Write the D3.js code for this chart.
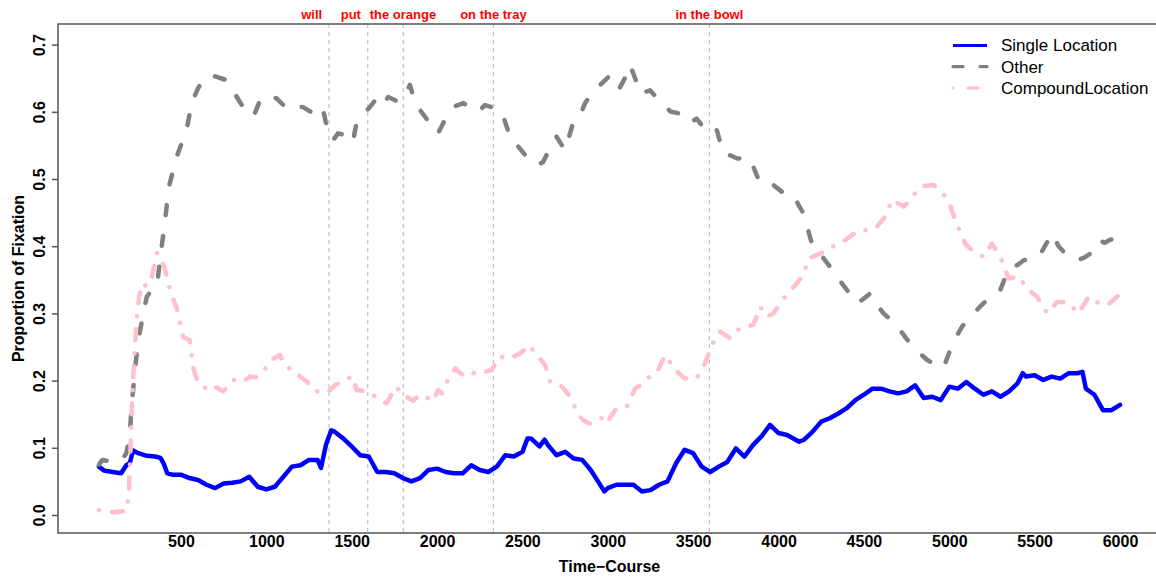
<!DOCTYPE html>
<html>
<head>
<meta charset="utf-8">
<script src="https://cdn.jsdelivr.net/npm/d3@7"></script>
<style>
  html, body { margin: 0; padding: 0; background: #fff; }
  svg { display: block; }
</style>
</head>
<body>
<svg id="chart" width="1156" height="580"></svg>
<script>
// ---------------- data ----------------
const singleTime = [20,50,100,150,180,200,220,250,300,350,380,400,420,450,500,550,600,650,700,750,800,850,900,950,1000,1050,1100,1150,1200,1250,1300,1320,1350,1380,1400,1450,1500,1550,1600,1650,1700,1750,1800,1850,1900,1950,2000,2050,2100,2150,2200,2250,2300,2350,2400,2450,2500,2530,2550,2600,2630,2650,2700,2750,2800,2850,2900,2950,2980,3000,3050,3100,3150,3200,3250,3300,3350,3400,3450,3500,3550,3600,3650,3700,3750,3800,3850,3900,3950,4000,4050,4100,4120,4150,4200,4250,4300,4350,4400,4450,4500,4550,4600,4650,4700,4750,4800,4850,4900,4950,5000,5050,5100,5150,5200,5250,5300,5350,5400,5430,5450,5500,5550,5600,5650,5700,5750,5780,5800,5850,5900,5950,6000];
const singleValues = [0.072,0.066,0.064,0.062,0.074,0.077,0.096,0.092,0.088,0.087,0.085,0.076,0.062,0.060,0.060,0.055,0.052,0.045,0.040,0.047,0.048,0.050,0.057,0.042,0.038,0.042,0.057,0.072,0.074,0.082,0.082,0.070,0.105,0.126,0.124,0.114,0.102,0.089,0.087,0.064,0.064,0.062,0.055,0.050,0.055,0.067,0.069,0.064,0.062,0.062,0.074,0.067,0.064,0.072,0.089,0.087,0.094,0.114,0.114,0.102,0.112,0.104,0.089,0.094,0.084,0.082,0.067,0.047,0.035,0.040,0.045,0.045,0.045,0.035,0.037,0.045,0.050,0.077,0.097,0.092,0.072,0.064,0.072,0.079,0.099,0.087,0.104,0.117,0.134,0.122,0.119,0.112,0.109,0.112,0.124,0.139,0.144,0.151,0.159,0.171,0.179,0.188,0.188,0.184,0.181,0.184,0.193,0.174,0.176,0.171,0.191,0.188,0.198,0.188,0.179,0.184,0.176,0.184,0.196,0.211,0.206,0.208,0.201,0.206,0.203,0.211,0.211,0.213,0.188,0.179,0.156,0.156,0.164];

const otherTime = [20,40,80,150,180,200,210,235,250,280,300,330,360,375,405,430,475,533,563,600,630,670,710,768,808,857,900,925,960,1003,1060,1100,1138,1180,1216,1260,1294,1333,1362,1392,1420,1450,1480,1509,1528,1568,1600,1646,1680,1714,1772,1810,1841,1870,1899,1938,1970,2006,2040,2066,2100,2154,2200,2242,2280,2320,2360,2388,2437,2470,2515,2550,2583,2620,2642,2700,2749,2770,2798,2830,2867,2900,2955,3004,3030,3062,3100,3130,3160,3189,3247,3290,3325,3370,3413,3450,3481,3520,3550,3598,3638,3677,3720,3755,3800,3833,3862,3892,3930,3970,4030,4088,4120,4146,4195,4230,4264,4300,4342,4370,4400,4430,4459,4490,4537,4570,4615,4660,4713,4750,4791,4830,4869,4910,4947,4975,5006,5040,5074,5110,5143,5180,5221,5260,5299,5330,5358,5400,5436,5480,5524,5560,5602,5640,5680,5715,5749,5790,5827,5876,5910,5944,6000];
const otherValues = [0.075,0.082,0.080,0.080,0.092,0.115,0.160,0.226,0.260,0.300,0.325,0.335,0.340,0.375,0.434,0.489,0.533,0.573,0.613,0.635,0.647,0.655,0.652,0.647,0.630,0.610,0.600,0.593,0.615,0.625,0.620,0.610,0.615,0.608,0.607,0.600,0.610,0.603,0.568,0.558,0.568,0.566,0.570,0.558,0.583,0.598,0.605,0.620,0.610,0.622,0.615,0.625,0.640,0.615,0.603,0.590,0.575,0.568,0.585,0.598,0.608,0.613,0.605,0.600,0.610,0.607,0.605,0.593,0.556,0.550,0.536,0.525,0.521,0.525,0.536,0.563,0.543,0.560,0.585,0.590,0.613,0.625,0.640,0.652,0.640,0.632,0.650,0.670,0.650,0.627,0.632,0.620,0.610,0.600,0.598,0.590,0.583,0.590,0.580,0.585,0.573,0.538,0.535,0.531,0.530,0.531,0.512,0.494,0.495,0.491,0.479,0.476,0.460,0.449,0.404,0.395,0.382,0.370,0.357,0.345,0.335,0.325,0.315,0.320,0.330,0.315,0.300,0.290,0.275,0.262,0.250,0.240,0.231,0.225,0.218,0.225,0.246,0.265,0.280,0.292,0.300,0.310,0.320,0.330,0.335,0.355,0.369,0.372,0.379,0.382,0.384,0.400,0.419,0.400,0.389,0.385,0.379,0.383,0.389,0.409,0.405,0.410,0.410];

const compoundTime = [20,110,180,195,205,215,225,240,255,275,300,330,360,378,405,436,478,513,552,571,600,650,688,747,805,864,903,940,981,1030,1080,1110,1140,1198,1240,1276,1333,1370,1401,1440,1470,1509,1528,1587,1620,1646,1704,1730,1763,1790,1821,1860,1899,1940,1977,2006,2028,2057,2106,2140,2184,2220,2262,2320,2369,2420,2467,2500,2535,2594,2633,2662,2700,2731,2780,2828,2860,2897,2930,2965,2994,3020,3053,3111,3160,3200,3228,3286,3335,3394,3452,3521,3570,3609,3658,3716,3760,3794,3853,3892,3931,3970,4039,4098,4146,4176,4244,4313,4391,4469,4537,4576,4625,4664,4733,4771,4830,4908,4947,4996,5035,5054,5093,5143,5201,5250,5299,5348,5407,5456,5514,5573,5631,5690,5758,5817,5876,5925,5983,6000];
const compoundValues = [0.007,0.004,0.006,0.032,0.100,0.176,0.226,0.290,0.325,0.345,0.340,0.355,0.390,0.385,0.367,0.335,0.305,0.265,0.260,0.220,0.196,0.188,0.193,0.184,0.201,0.198,0.206,0.205,0.213,0.231,0.238,0.221,0.218,0.206,0.198,0.186,0.181,0.185,0.193,0.198,0.203,0.206,0.186,0.184,0.180,0.174,0.166,0.178,0.191,0.180,0.176,0.170,0.179,0.175,0.169,0.186,0.181,0.198,0.218,0.210,0.206,0.212,0.211,0.216,0.236,0.232,0.238,0.243,0.253,0.236,0.223,0.198,0.195,0.191,0.176,0.149,0.140,0.136,0.142,0.144,0.136,0.148,0.159,0.161,0.188,0.195,0.203,0.211,0.238,0.216,0.203,0.203,0.226,0.253,0.273,0.263,0.275,0.280,0.283,0.310,0.295,0.300,0.325,0.342,0.357,0.382,0.389,0.399,0.409,0.424,0.424,0.429,0.444,0.469,0.459,0.469,0.489,0.491,0.484,0.467,0.439,0.427,0.404,0.392,0.384,0.404,0.384,0.352,0.355,0.337,0.325,0.300,0.317,0.317,0.300,0.325,0.315,0.312,0.325,0.330];

const xTicks = [500,1000,1500,2000,2500,3000,3500,4000,4500,5000,5500,6000];
const yTicks = [0,0.1,0.2,0.3,0.4,0.5,0.6,0.7];
const wordOnsets = [1367,1594,1802,2330,3595];
const wordLabels = ["will","put","the orange","on the tray","in the bowl"];
const wordLabelTimes = [1266,1495,1800,2330,3595];
const seriesNames = ["Single Location","Other","CompoundLocation"];

// ---------------- chart ----------------
const svg = d3.select("#chart");
const mLeft = 58, mRight = 1161, mTop = 24, mBottom = 533;
const x = d3.scaleLinear().domain([-220, 6240]).range([mLeft, mRight]);
const y = d3.scaleLinear().domain([-0.0268, 0.7307]).range([mBottom, mTop]);
const FONT = "Liberation Sans, Arial, sans-serif";

const styles = [
  {color: "#0000ff", dash: null, w: 4.5},
  {color: "#808080", dash: "10,21", w: 4.5},
  {color: "#ffc0cb", dash: "0.1,13,11,13", w: 4.5}
];
const legendDash = [null, "10,17", "0.1,15,10,15"];

svg.append("defs").append("clipPath").attr("id","plotclip")
  .append("rect").attr("x", mLeft).attr("y", mTop)
  .attr("width", mRight-mLeft).attr("height", mBottom-mTop);

// vertical word onset lines
svg.append("g").selectAll("line").data(wordOnsets).join("line")
  .attr("x1", d => x(d)).attr("x2", d => x(d))
  .attr("y1", mTop).attr("y2", mBottom)
  .attr("stroke", "#c0c0c0").attr("stroke-width", 1.2)
  .attr("stroke-dasharray", "4,4");

// word labels
svg.append("g").selectAll("text").data(wordLabels).join("text")
  .attr("x", (d,i) => x(wordLabelTimes[i]))
  .attr("y", 14)
  .attr("dy", "0.35em")
  .attr("text-anchor", "middle")
  .attr("font-family", FONT)
  .attr("font-weight", "bold")
  .attr("font-size", 13)
  .attr("fill", "#ff0000")
  .text(d => d);

// series
const seriesData = [
  singleTime.map((t,i) => [t, singleValues[i]]),
  otherTime.map((t,i) => [t, otherValues[i]]),
  compoundTime.map((t,i) => [t, compoundValues[i]])
];
const line = d3.line().x(d => x(d[0])).y(d => y(d[1]));
const gLines = svg.append("g").attr("clip-path", "url(#plotclip)");
seriesData.forEach((data, i) => {
  const p = gLines.append("path")
    .attr("d", line(data))
    .attr("fill", "none")
    .attr("stroke", styles[i].color)
    .attr("stroke-width", styles[i].w)
    .attr("stroke-linecap", "round")
    .attr("stroke-linejoin", "round");
  if (styles[i].dash) p.attr("stroke-dasharray", styles[i].dash);
});

// box
svg.append("rect")
  .attr("x", mLeft).attr("y", mTop)
  .attr("width", mRight-mLeft).attr("height", mBottom-mTop)
  .attr("fill", "none").attr("stroke", "#555").attr("stroke-width", 1.5);

// y axis
const yAxis = d3.axisLeft(y).tickValues(yTicks).tickFormat(d3.format(".1f")).tickSize(6).tickPadding(0);
const gy = svg.append("g").attr("transform", `translate(${mLeft},0)`).call(yAxis);
gy.select(".domain").remove();
gy.selectAll(".tick line").attr("stroke", "#555").attr("stroke-width", 1.5);
gy.selectAll(".tick text")
  .attr("x", 0).attr("dy", null)
  .attr("transform", "translate(-19,0) rotate(-90)")
  .attr("text-anchor", "middle")
  .attr("dominant-baseline", "central")
  .attr("font-family", FONT)
  .attr("font-weight", "bold").attr("font-size", 16).attr("fill", "#000");

// x axis (labels only)
const xAxis = d3.axisBottom(x).tickValues(xTicks).tickFormat(d3.format("d")).tickSize(0).tickPadding(0);
const gx = svg.append("g").attr("transform", `translate(0,${mBottom})`).call(xAxis);
gx.select(".domain").remove();
gx.selectAll(".tick text")
  .attr("y", 3).attr("dy", "0.71em")
  .attr("font-family", FONT)
  .attr("font-weight", "bold").attr("font-size", 16).attr("fill", "#000");

// axis titles
svg.append("text")
  .attr("x", (mLeft+mRight)/2).attr("y", 566).attr("dy", "0.35em")
  .attr("text-anchor", "middle")
  .attr("font-family", FONT)
  .attr("font-weight", "bold").attr("font-size", 16)
  .text("Time\u2212Course");
svg.append("text")
  .attr("transform", `translate(18,${(mTop+mBottom)/2}) rotate(-90)`)
  .attr("dy", "0.35em")
  .attr("text-anchor", "middle")
  .attr("font-family", FONT)
  .attr("font-weight", "bold").attr("font-size", 16)
  .text("Proportion of Fixation");

// legend
const legRows = [45.5, 66.7, 88];
const leg = svg.append("g");
seriesNames.forEach((name, i) => {
  const l = leg.append("line")
    .attr("x1", 953).attr("x2", 987)
    .attr("y1", legRows[i]).attr("y2", legRows[i])
    .attr("stroke", styles[i].color).attr("stroke-width", 3.2)
    .attr("stroke-linecap", i === 0 ? "butt" : "round");
  if (legendDash[i]) l.attr("stroke-dasharray", legendDash[i]);
  leg.append("text")
    .attr("x", 1001).attr("y", legRows[i]).attr("dy", "0.35em")
    .attr("font-family", FONT)
    .attr("font-size", 17).attr("fill", "#000")
    .text(name);
});
</script>
</body>
</html>
